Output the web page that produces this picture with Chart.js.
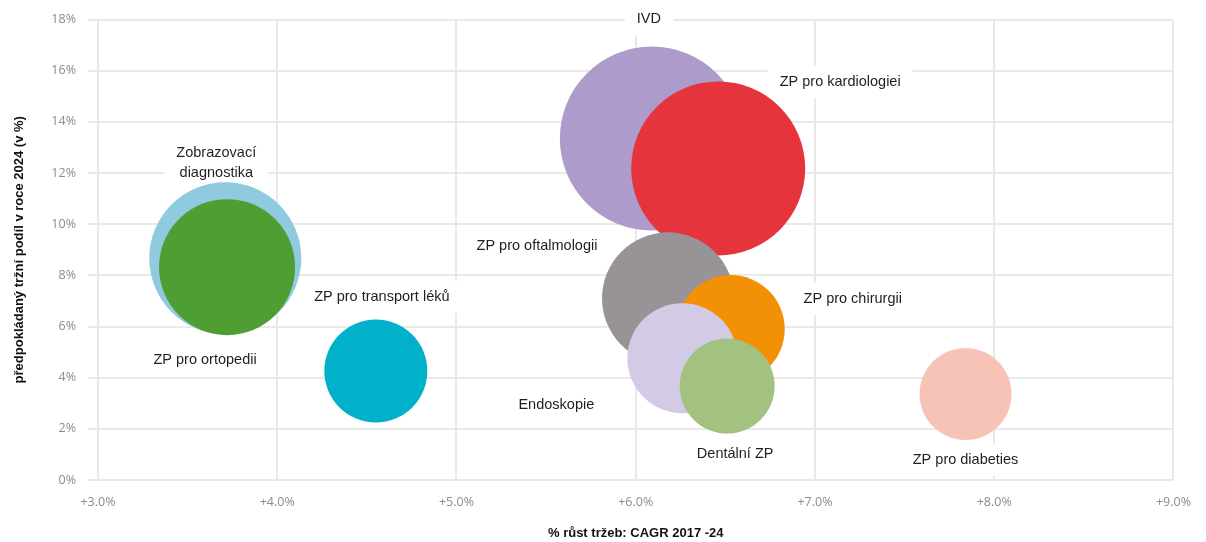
<!DOCTYPE html>
<html>
<head>
<meta charset="utf-8">
<script src="https://cdn.jsdelivr.net/npm/chart.js@4"></script>
<style>
  html, body { margin: 0; padding: 0; background: #fff; }
  #wrap { width: 1206px; height: 542px; }
</style>
</head>
<body>
<div id="wrap"><canvas id="bubbleChart" width="1206" height="542"></canvas></div>
<script>
// segment names, in draw order (later ones on top)
const segments = [
    "Zobrazovací diagnostika", "ZP pro ortopedii", "ZP pro transport léků",
    "IVD", "ZP pro kardiologiei", "ZP pro oftalmologii", "ZP pro chirurgii",
    "Endoskopie", "Dentální ZP", "ZP pro diabeties"
];
// CAGR 2017-24 (%)
const growth = [3.71, 3.72, 4.55, 6.09, 6.46, 6.18, 6.53, 6.26, 6.51, 7.84];
// market share 2024 (%)
const share = [8.67, 8.32, 4.26, 13.35, 12.18, 7.10, 5.90, 4.76, 3.67, 3.36];
// bubble size (market size)
const size = [76, 68, 51.5, 92, 87, 66, 54, 55, 47.5, 46];

const xTicks = [3, 4, 5, 6, 7, 8, 9];
const yTicks = [0, 2, 4, 6, 8, 10, 12, 14, 16, 18];

const colors = ["#8fcadf", "#4e9e34", "#00b1c9", "#ad9bcb", "#e5343b",
                "#979397", "#f29106", "#d3cae5", "#a3c27f", "#f8c3b7"];

// label placement, px offset from the bubble centre
const labelPos = [
    { dx: -9, dy: -95, lines: ["Zobrazovací", "diagnostika"] },
    { dx: -22, dy: 93 },
    { dx: 6, dy: -74 },
    { dx: -3, dy: -119 },
    { dx: 122, dy: -86 },
    { dx: -131, dy: -52 },
    { dx: 122, dy: -30 },
    { dx: -126, dy: 47 },
    { dx: 8, dy: 68 },
    { dx: 0, dy: 66 }
];

const gridColor = "#e9e9e9";

const labelPlugin = {
    id: "bubbleLabels",
    beforeDatasetsDraw(chart) {
        const ctx = chart.ctx;
        const xs = chart.scales.x, ys = chart.scales.y;
        ctx.save();
        ctx.font = "14.5px 'Liberation Sans', Arial, sans-serif";
        ctx.textAlign = "center";
        ctx.textBaseline = "middle";
        segments.forEach((name, i) => {
            const p = labelPos[i];
            const lines = p.lines || [name];
            const cx = xs.getPixelForValue(growth[i]) + p.dx;
            const cy = ys.getPixelForValue(share[i]) + p.dy;
            const lh = 20;
            const w = Math.max(...lines.map(l => ctx.measureText(l).width));
            const h = lines.length * lh;
            ctx.fillStyle = "#fff";
            ctx.fillRect(cx - w / 2 - 12, cy - h / 2 - 6, w + 24, h + 12);
            ctx.fillStyle = "#1f1f1f";
            lines.forEach((l, k) => {
                ctx.fillText(l, cx, cy - h / 2 + lh / 2 + k * lh);
            });
        });
        ctx.restore();
    }
};

const ctx = document.getElementById("bubbleChart").getContext("2d");

const bubbleChart = new Chart(ctx, {
    type: "bubble",
    data: {
        datasets: [{
            label: "segmenty",
            data: segments.map((s, i) => ({ x: growth[i], y: share[i], r: size[i] })),
            backgroundColor: colors,
            borderWidth: 0,
            hoverRadius: 0,
            clip: false
        }]
    },
    options: {
        responsive: false,
        animation: false,
        layout: { autoPadding: false, padding: { left: 0, right: 27, top: 19, bottom: 0 } },
        plugins: {
            legend: { display: false },
            tooltip: { enabled: false }
        },
        scales: {
            x: {
                type: "linear",
                min: 3, max: 9,
                afterBuildTicks: (s) => { s.ticks = xTicks.map(v => ({ value: v })); },
                afterFit: (s) => { s.height = 62; },
                grid: { color: gridColor, lineWidth: 2, drawTicks: false },
                border: { color: gridColor, width: 2 },
                ticks: {
                    padding: 15,
                    color: "#8c8c8c",
                    font: { family: "'Open Sans', sans-serif", size: 12.5 },
                    callback: (v) => "+" + Number(v).toFixed(1) + "%"
                },
                title: {
                    display: true,
                    text: "% růst tržeb: CAGR 2017 -24",
                    color: "#111",
                    font: { family: "'Liberation Sans', Arial, sans-serif", size: 13, weight: "bold" },
                    padding: { top: 0, bottom: 1 }
                }
            },
            y: {
                type: "linear",
                min: 0, max: 18,
                afterBuildTicks: (s) => { s.ticks = yTicks.map(v => ({ value: v })); },
                afterFit: (s) => { s.width = 98; },
                grid: { color: gridColor, lineWidth: 2, tickLength: 10 },
                border: { color: gridColor, width: 2 },
                ticks: {
                    padding: 12,
                    color: "#8c8c8c",
                    font: { family: "'Open Sans', sans-serif", size: 12.5 },
                    callback: (v) => v + "%"
                },
                title: {
                    display: true,
                    text: "předpokládaný tržní podíl v roce 2024 (v %)",
                    color: "#111",
                    font: { family: "'Liberation Sans', Arial, sans-serif", size: 13, weight: "bold" },
                    padding: { top: 12, bottom: 0 }
                }
            }
        }
    },
    plugins: [labelPlugin]
});
</script>
</body>
</html>
